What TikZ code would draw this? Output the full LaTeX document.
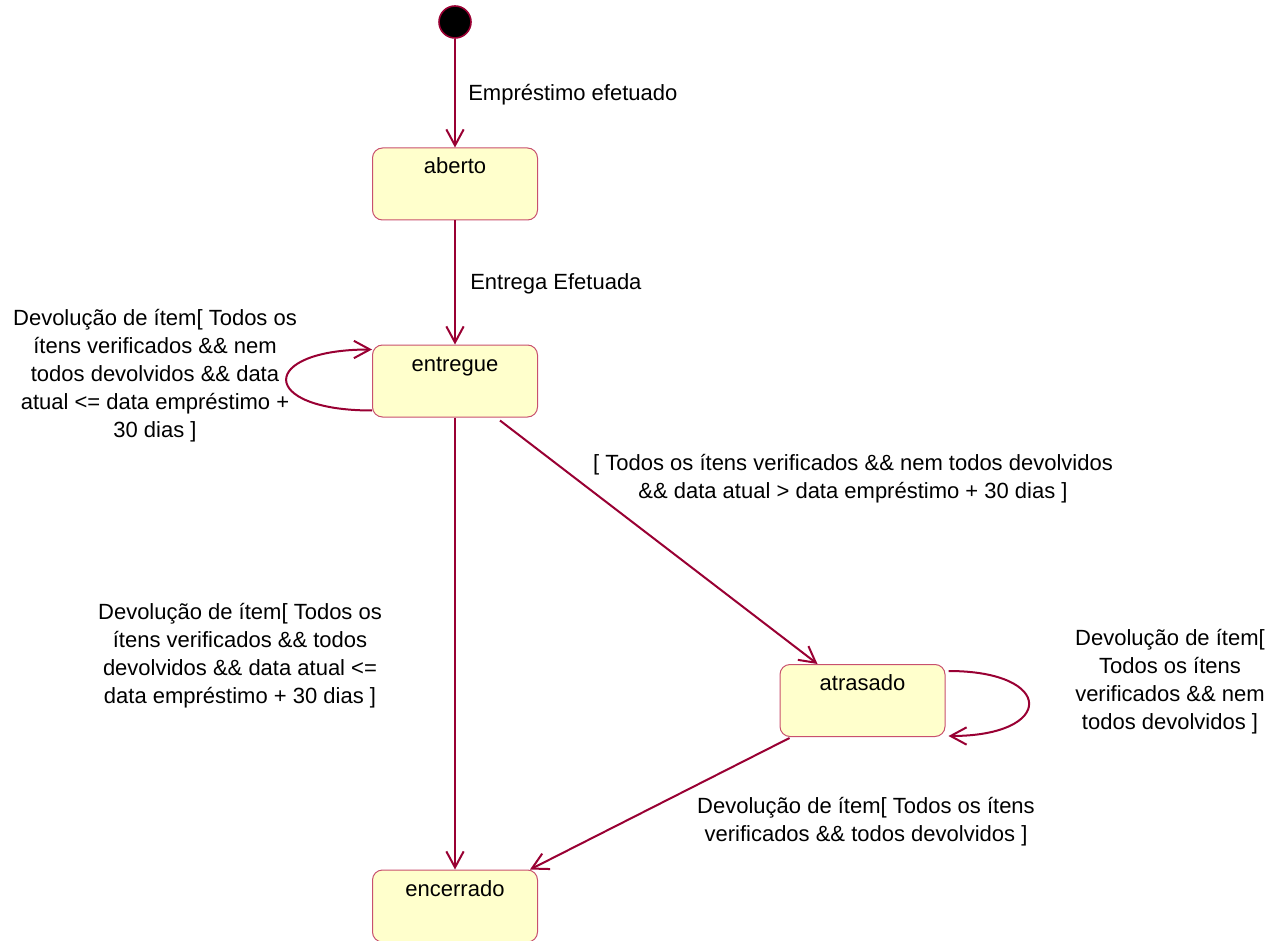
\documentclass[tikz,border=0pt]{standalone}
\usepackage{fontspec}
\setmainfont{Liberation Sans}
\usetikzlibrary{arrows.meta,calc}
\definecolor{wire}{HTML}{990033}
\definecolor{statefill}{HTML}{FFFFCC}
\definecolor{stateline}{HTML}{C8506E}
\begin{document}
\begin{tikzpicture}[x=0.75pt,y=-0.75pt,
  every node/.style={font=\fontsize{16.5pt}{21pt}\selectfont},
  state/.style={draw=stateline, line width=0.75pt, fill=statefill,
    rounded corners=7.5pt, minimum width=123.75pt, inner sep=0pt,
    text height=19.5pt, text depth=34.5pt},
  initial/.style={circle, fill=black, draw=wire, line width=1.2pt,
    minimum size=24pt, inner sep=0pt},
  trans/.style={draw=wire, line width=1.5pt,
    -{Straight Barb[length=12pt,width=13pt,line width=1.5pt]}},
  lbl/.style={align=center, inner sep=0pt}]
\useasboundingbox (0,0) rectangle (1278,941);

% states
\node[initial] (init) at (455,22) {};
\node[state] (aberto) at (455,184) {aberto};
\node[state] (entregue) at (455,381) {entregue};
\node[state] (atrasado) at (862.5,700.5) {atrasado};
\node[state] (encerrado) at (455,906) {encerrado};

% transitions
\draw[trans] (init) -- (aberto);
\draw[trans] (aberto) -- (entregue);
\draw[trans] (entregue) -- (encerrado);
\draw[trans] ($(entregue.south)+(45,3)$) -- ($(atrasado.north)+(-45,0)$);
\draw[trans] ($(atrasado.south west)+(10,1)$) -- ($(encerrado.north east)+(-8,0)$);
\draw[trans] ($(entregue.south west)+(0,-7)$) .. controls +(-114,0) and +(-114,0) .. ($(entregue.north west)+(0,5)$);
\draw[trans] ($(atrasado.north east)+(3,7)$) .. controls +(107,0) and +(107,0) .. ($(atrasado.south east)+(3,-1)$);

% transition labels
\node[lbl, anchor=west] (l1) at (468,95) {Empréstimo efetuado};
\node[lbl, anchor=west] (l2) at (470,284) {Entrega Efetuada};
\node[lbl] (l3) at (155,376) {Devolução de ítem[ Todos os\\ítens verificados \&\& nem\\todos devolvidos \&\& data\\atual <= data empréstimo +\\30 dias ]};
\node[lbl] (l4) at (240,656) {Devolução de ítem[ Todos os\\ítens verificados \&\& todos\\devolvidos \&\& data atual <=\\data empréstimo + 30 dias ]};
\node[lbl] (l5) at (853,479) {[ Todos os ítens verificados \&\& nem todos devolvidos\\\&\& data atual > data empréstimo + 30 dias ]};
\node[lbl] (l6) at (1170,682) {Devolução de ítem[\\Todos os ítens\\verificados \&\& nem\\todos devolvidos ]};
\node[lbl] (l7) at (866,822) {Devolução de ítem[ Todos os ítens\\verificados \&\& todos devolvidos ]};
\end{tikzpicture}
\end{document}
